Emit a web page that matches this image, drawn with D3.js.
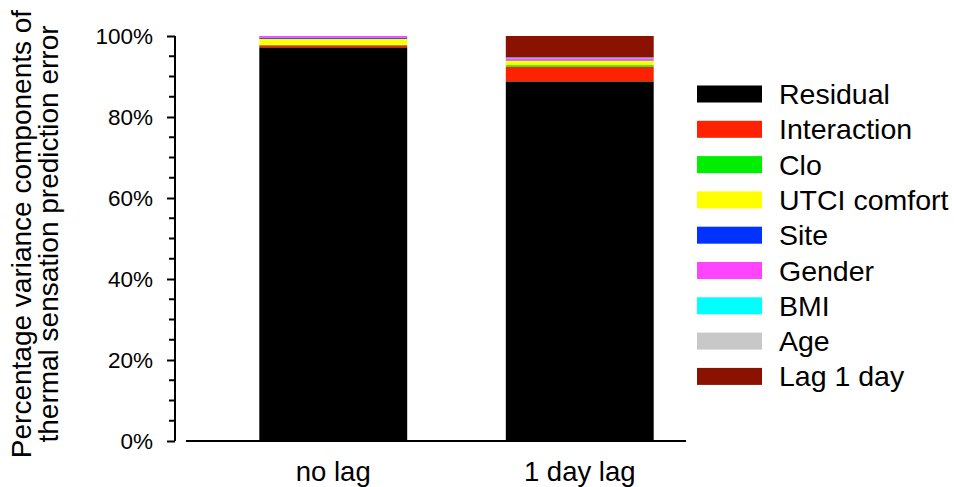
<!DOCTYPE html>
<html><head><meta charset="utf-8">
<script src="https://cdn.jsdelivr.net/npm/d3@7"></script>
<style>body{margin:0;background:#fff;} svg{display:block;font-family:Arial,"Liberation Sans",sans-serif;}</style>
</head><body>
<svg id="c" width="954" height="487"></svg>
<script>
const categories = ["no lag", "1 day lag"];
const components = ["Residual","Interaction","Clo","UTCI comfort","Site","Gender","BMI","Age","Lag 1 day"];
const colors = ["#000000","#ff2200","#00ee00","#ffff00","#0033ff","#ff44ff","#00ffff","#c8c8c8","#8b1100"];
const residual    = [97.2, 88.8];
const interaction = [0.5, 3.6];
const clo         = [0.1, 0.4];
const utci        = [1.5, 1.1];
const site        = [0.3, 0.1];
const gender      = [0.4, 0.5];
const bmi         = [0.0, 0.2];
const age         = [0.0, 0.0];
const lag1        = [0.0, 5.3];
const yTicks = [0, 20, 40, 60, 80, 100];

const series = [residual, interaction, clo, utci, site, gender, bmi, age, lag1];
const table = categories.map((c, i) => {
  const o = {cat: c};
  components.forEach((k, j) => o[k] = series[j][i]);
  return o;
});
const stack = d3.stack().keys(components)(table);

const svg = d3.select("#c");
const y = d3.scaleLinear().domain([0, 100]).range([441, 36]);
const x = d3.scaleBand().domain(categories).range([210, 703]).paddingInner(0.4).paddingOuter(0.2);

// bars
svg.append("g").selectAll("g").data(stack).join("g")
  .attr("fill", (d, i) => colors[i])
  .selectAll("rect").data(d => d).join("rect")
  .attr("x", d => x(d.data.cat))
  .attr("width", x.bandwidth())
  .attr("y", d => y(d[1]))
  .attr("height", d => Math.max(0, y(d[0]) - y(d[1])));

// y axis
const yAxis = svg.append("g").attr("transform", "translate(175,0)")
  .call(d3.axisLeft(y).tickValues(yTicks).tickFormat(d => d + "%").tickSize(8).tickPadding(14));
yAxis.select(".domain").attr("stroke", "#000").attr("stroke-width", 2).attr("d", `M-0,${y(100)}V${y(0)}`);
yAxis.selectAll(".tick line").attr("stroke-width", 2);
yAxis.selectAll("text").attr("font-size", 22.5).attr("fill", "#000").attr("font-family", "Arial, 'Liberation Sans', sans-serif");
// minor ticks
svg.append("g").attr("transform", "translate(175,0)")
  .selectAll("line").data(d3.range(5, 100, 5).filter(v => v % 20 !== 0)).join("line")
  .attr("x1", -6).attr("x2", 0).attr("y1", d => y(d)).attr("y2", d => y(d))
  .attr("stroke", "#000").attr("stroke-width", 2);

// x axis line
svg.append("line").attr("x1", 186).attr("x2", 686).attr("y1", 441).attr("y2", 441)
  .attr("stroke", "#000").attr("stroke-width", 2);
svg.append("g").selectAll("text").data(categories).join("text")
  .attr("x", d => x(d) + x.bandwidth() / 2).attr("y", 481)
  .attr("text-anchor", "middle").attr("font-size", 27.5).attr("fill", "#000").text(d => d);

// y title
const yt = svg.append("text").attr("transform", "translate(0,234) rotate(-90)")
  .attr("text-anchor", "middle").attr("font-size", 28).attr("fill", "#000");
yt.append("tspan").attr("x", 0).attr("y", 31).text("Percentage variance components of");
yt.append("tspan").attr("x", 0).attr("y", 58).text("thermal sensation prediction error");

// legend
const lg = svg.append("g").selectAll("g").data(components).join("g")
  .attr("transform", (d, i) => `translate(697,${94 + i * 35.3})`);
lg.append("rect").attr("x", 0).attr("y", -8.5).attr("width", 65).attr("height", 17)
  .attr("fill", (d, i) => colors[i]);
lg.append("text").attr("x", 82).attr("y", 10).attr("font-size", 28.5).attr("fill", "#000").text(d => d);
</script>
</body></html>
